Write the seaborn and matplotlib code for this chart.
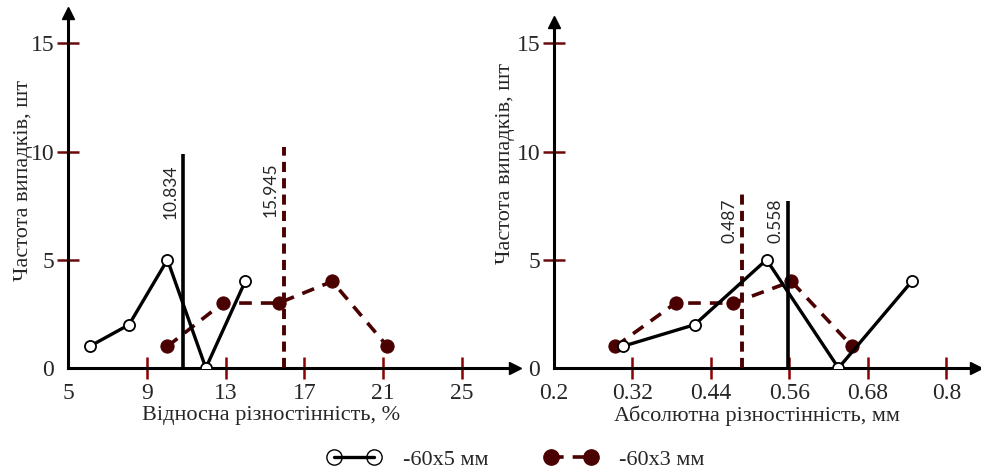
import numpy as np
import pandas as pd
import matplotlib
matplotlib.use('Agg')
import matplotlib.pyplot as plt
from matplotlib.lines import Line2D
import seaborn as sns

# дані
rel_x_5 = [6.1, 8.1, 10.05, 12.0, 14.0]
rel_y_5 = [1, 2, 5, 0, 4]
rel_x_3 = [10.05, 12.86, 15.7, 18.42, 21.22]
rel_y_3 = [1, 3, 3, 4, 1]

abs_x_5 = [0.305, 0.415, 0.525, 0.635, 0.747]
abs_y_5 = [1, 2, 5, 0, 4]
abs_x_3 = [0.294, 0.386, 0.474, 0.563, 0.656]
abs_y_3 = [1, 3, 3, 4, 1]

# середні значення (вертикальні лінії): положення, висота лінії, верх підпису
rel_mean_5, rel_mean_3 = 10.834, 15.945
abs_mean_5, abs_mean_3 = 0.558, 0.487
rel_top_5, rel_top_3 = 9.9, 10.2
abs_top_5, abs_top_3 = 7.7, 8.1
rel_lab_5, rel_lab_3 = 9.4, 9.5
abs_lab_5, abs_lab_3 = 7.85, 7.85

rel_xticks = [5, 9, 13, 17, 21, 25]
abs_xticks = [0.2, 0.32, 0.44, 0.56, 0.68, 0.8]
yticks = [0, 5, 10, 15]

labels = ['-60x5 мм', '-60x3 мм']

sns.set_style('white')
plt.rcParams['font.family'] = ['Liberation Serif', 'DejaVu Serif']

RED = '#4a0000'
TICK_X = '#8b0000'
TICK_Y = '#6b0a0a'

fig = plt.figure(figsize=(9.81, 4.72), dpi=100)
W, H = 981, 472
ax1 = fig.add_axes([68 / W, 104 / H, 447 / W, 355 / H])
ax2 = fig.add_axes([554 / W, 104 / H, 422 / W, 346 / H])


def style_axis(ax, xticks, xlim, ylim, xlabel, xl_pos, yl_pos):
    ax.set_xlim(*xlim)
    ax.set_ylim(*ylim)
    for s in ['top', 'right']:
        ax.spines[s].set_visible(False)
    for s in ['left', 'bottom']:
        ax.spines[s].set_linewidth(2.2)
        ax.spines[s].set_color('black')
    ax.set_xticks(xticks)
    ax.set_xticklabels([f'{t:g}' for t in xticks])
    ax.set_yticks(yticks)
    ax.tick_params(axis='x', bottom=True, direction='inout', length=16, width=1.8,
                   color=TICK_X, labelsize=17, pad=3)
    ax.tick_params(axis='y', left=True, direction='inout', length=16, width=1.8,
                   color=TICK_Y, labelsize=17, pad=2)
    ax.xaxis.get_major_ticks()[0].tick1line.set_visible(False)
    ax.yaxis.get_major_ticks()[0].tick1line.set_visible(False)
    # стрілки на осях
    ax.plot(0, 1, marker='^', color='black', markersize=9,
            transform=ax.transAxes, clip_on=False)
    ax.plot(1, 0, marker='>', color='black', markersize=9,
            transform=ax.transAxes, clip_on=False)
    ax.set_xlabel(xlabel, fontsize=16, va='center')
    ax.xaxis.set_label_coords(*xl_pos)
    ax.set_ylabel('Частота випадків, шт', fontsize=16, va='center')
    ax.yaxis.set_label_coords(*yl_pos)
    ax.grid(False)


def draw(ax, x5, y5, x3, y3, m5, m3, t5, t3, l5, l3):
    sns.lineplot(x=x3, y=y3, ax=ax, color=RED, lw=2.6, linestyle=(0, (3.5, 2.5)),
                 marker='o', markersize=9.5, markerfacecolor=RED,
                 markeredgecolor=RED, sort=False, zorder=3)
    ax.vlines(m3, 0, t3, colors=RED, lw=2.8, linestyles=(0, (2.6, 1.6)), zorder=4)
    ax.vlines(m5, 0, t5, colors='black', lw=2.6, zorder=4)
    sns.lineplot(x=x5, y=y5, ax=ax, color='black', lw=2.4,
                 marker='o', markersize=8, markerfacecolor='white',
                 markeredgecolor='black', markeredgewidth=1.3, sort=False, zorder=5)
    for m, ly in [(m5, l5), (m3, l3)]:
        ax.annotate(f'{m:.3f}', xy=(m, ly), xycoords='data', xytext=(-9, 0),
                    textcoords='offset points', rotation=90, ha='center', va='top',
                    fontsize=12.5, family=['Lato', 'DejaVu Sans'])


draw(ax1, rel_x_5, rel_y_5, rel_x_3, rel_y_3, rel_mean_5, rel_mean_3,
     rel_top_5, rel_top_3, rel_lab_5, rel_lab_3)
draw(ax2, abs_x_5, abs_y_5, abs_x_3, abs_y_3, abs_mean_5, abs_mean_3,
     abs_top_5, abs_top_3, abs_lab_5, abs_lab_3)

style_axis(ax1, rel_xticks, (5, 5 + 447 / 19.69), (0, 355 / 21.65),
           'Відносна різностінність, %', (0.455, -0.135), (-0.1, 0.527))
style_axis(ax2, abs_xticks, (0.2, 0.2 + 422 / 654), (0, 346 / 21.65),
           'Абсолютна різностінність, мм', (0.481, -0.139), (-0.115, 0.59))

handles = [
    Line2D([], [], color='black', lw=2.4, marker='o', markersize=11,
           markerfacecolor='none', markeredgecolor='black'),
    Line2D([], [], color=RED, lw=2.6, linestyle=(0, (3.5, 2.5)), marker='o',
           markersize=11, markerfacecolor=RED, markeredgecolor=RED),
]
fig.legend(handles, labels, loc='lower center', bbox_to_anchor=(0.526, -0.038),
           ncol=2, frameon=False, numpoints=2, handlelength=2.4,
           handletextpad=1.0, columnspacing=2.5, fontsize=16)

fig.savefig('out.png', dpi=100)
